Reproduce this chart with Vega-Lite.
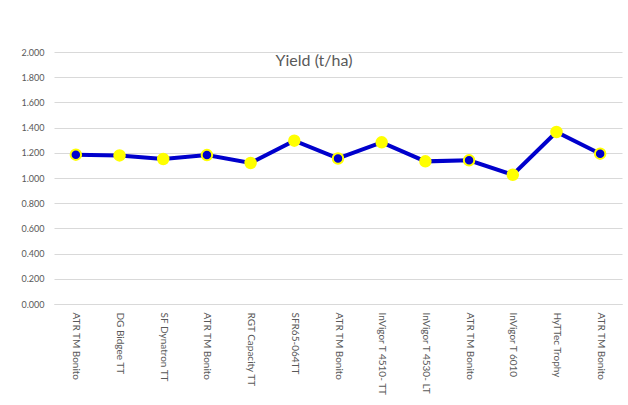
{
  "$schema": "https://vega.github.io/schema/vega-lite/v6.json",
  "width": 568,
  "height": 252,
  "autosize": {"type": "none"},
  "padding": {"left": 54, "top": 52, "right": 6, "bottom": 101},
  "background": "white",
  "config": {
    "view": {"stroke": null},
    "font": "Lato"
  },
  "title": {
    "text": "Yield (t/ha)",
    "anchor": "middle",
    "orient": "top",
    "baseline": "alphabetic",
    "offset": -16,
    "dy": 18,
    "dx": -24,
    "fontSize": 16,
    "fontWeight": "normal",
    "color": "#595959",
    "font": "Lato"
  },
  "data": {
    "values": [
      {"Variety": "ATR TM Bonito|1", "Yield": 1.185, "Check": "yes"},
      {"Variety": "DG Bidgee TT|2", "Yield": 1.179, "Check": "no"},
      {"Variety": "SF Dynatron TT|3", "Yield": 1.151, "Check": "no"},
      {"Variety": "ATR TM Bonito|4", "Yield": 1.182, "Check": "yes"},
      {"Variety": "RGT Capacity TT|5", "Yield": 1.119, "Check": "no"},
      {"Variety": "SFR65-064TT|6", "Yield": 1.296, "Check": "no"},
      {"Variety": "ATR TM Bonito|7", "Yield": 1.155, "Check": "yes"},
      {"Variety": "InVigor T 4510- TT|8", "Yield": 1.283, "Check": "no"},
      {"Variety": "InVigor T 4530- LT|9", "Yield": 1.132, "Check": "no"},
      {"Variety": "ATR TM Bonito|10", "Yield": 1.14, "Check": "yes"},
      {"Variety": "InVigor T 6010|11", "Yield": 1.026, "Check": "no"},
      {"Variety": "HyTTec Trophy|12", "Yield": 1.365, "Check": "no"},
      {"Variety": "ATR TM Bonito|13", "Yield": 1.193, "Check": "yes"}
    ]
  },
  "encoding": {
    "x": {
      "field": "Variety",
      "type": "ordinal",
      "sort": null,
      "scale": {"paddingInner": 0, "paddingOuter": 0},
      "axis": {
        "title": null,
        "labelExpr": "split(datum.value, '|')[0]",
        "labelAngle": 90,
        "labelAlign": "left",
        "labelBaseline": "middle",
        "labelPadding": 8,
        "labelFontSize": 10,
        "labelColor": "#595959",
        "labelFont": "Lato",
        "ticks": false,
        "domainColor": "#D9D9D9",
        "domainWidth": 1,
        "grid": false
      }
    },
    "y": {
      "field": "Yield",
      "type": "quantitative",
      "scale": {"domain": [0, 2], "nice": false, "zero": true},
      "axis": {
        "title": null,
        "values": [0, 0.2, 0.4, 0.6, 0.8, 1.0, 1.2, 1.4, 1.6, 1.8, 2.0],
        "format": ".3f",
        "domain": false,
        "ticks": false,
        "labelPadding": 10,
        "labelFontSize": 9,
        "labelColor": "#595959",
        "labelFont": "Lato",
        "gridColor": "#D9D9D9",
        "gridWidth": 1
      }
    }
  },
  "layer": [
    {
      "mark": {"type": "line", "color": "#0000CC", "strokeWidth": 4}
    },
    {
      "mark": {"type": "point", "filled": true, "size": 110, "strokeWidth": 2, "stroke": "#FFFF00", "opacity": 1},
      "encoding": {
        "fill": {
          "field": "Check",
          "type": "nominal",
          "scale": {"domain": ["yes", "no"], "range": ["#0000CC", "#FFFF00"]},
          "legend": null
        }
      }
    }
  ]
}
